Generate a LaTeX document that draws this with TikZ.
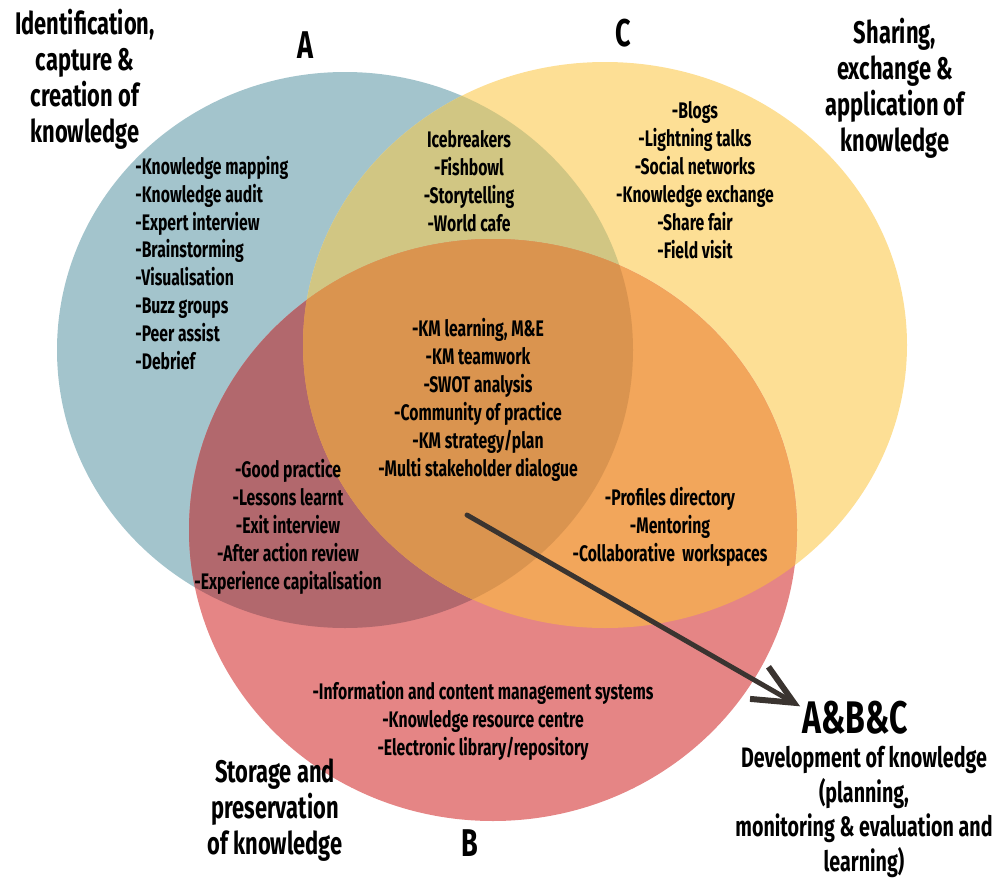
\documentclass[tikz,border=0pt]{standalone}
\usepackage{fontspec}
\setmainfont{Fira Sans}[FakeStretch=0.7]
\usetikzlibrary{arrows.meta}
\definecolor{fillA}{HTML}{A3C4CC}
\definecolor{fillB}{HTML}{E58585}
\definecolor{fillC}{HTML}{FDDF95}
\definecolor{fillAB}{HTML}{B2686D}
\definecolor{fillAC}{HTML}{D1C683}
\definecolor{fillBC}{HTML}{F2A65B}
\definecolor{fillABC}{HTML}{DA944F}
\definecolor{pointergray}{HTML}{3A3430}
\newcommand\shapeA{(345,350) ellipse [x radius=288, y radius=278]}
\newcommand\shapeB{(493,530) ellipse [x radius=304, y radius=291]}
\newcommand\shapeC{(605,345) ellipse [x radius=302, y radius=283]}
\tikzset{
  item/.style={align=center, inner sep=0pt, font=\bfseries\fontsize{12.8}{15.9}\selectfont},
  itemleft/.style={item, align=left},
  heading/.style={align=center, inner sep=0pt, font=\bfseries\fontsize{17.8}{20.5}\selectfont},
  setname/.style={inner sep=0pt, font=\bfseries\fontsize{22}{22}\selectfont},
  pointer/.style={line width=2.8pt, draw=pointergray, line cap=round,
    -{Straight Barb[length=0.8cm, width=0.74cm, line width=3.4pt]}},
}

\begin{document}
\begin{tikzpicture}[x=0.02cm, y=-0.02cm]
\useasboundingbox (0,0) rectangle (998,879);
% the three sets
\fill[fillA] \shapeA;
\fill[fillC] \shapeC;
\fill[fillB] \shapeB;
% pairwise overlaps
\begin{scope}
  \clip \shapeA;
  \fill[fillAC] \shapeC;
  \fill[fillAB] \shapeB;
\end{scope}
\begin{scope}
  \clip \shapeC;
  \fill[fillBC] \shapeB;
\end{scope}
% all three
\begin{scope}
  \clip \shapeA;
  \clip \shapeC;
  \fill[fillABC] \shapeB;
\end{scope}
% set letters and headings
\node[setname] (nameA) at (305,45) {A};
\node[setname] (nameC) at (623,33) {C};
\node[setname] (nameB) at (470,843) {B};
\node[heading] (headA) at (85,79) {Identification,\\capture \&\\creation of\\knowledge};
\node[heading] (headC) at (895,88) {Sharing,\\exchange \&\\application of\\knowledge};
\node[heading] (headB) at (275,810) {Storage and\\preservation\\of knowledge};
% methods in each region
\node[itemleft, anchor=west] (listA) at (135,263)
  {-Knowledge mapping\\-Knowledge audit\\-Expert interview\\-Brainstorming\\-Visualisation\\-Buzz groups\\-Peer assist\\-Debrief};
\node[item] (listAC) at (469,181) {Icebreakers\\-Fishbowl\\-Storytelling\\-World cafe};
\node[item] (listC) at (695,180)
  {-Blogs\\-Lightning talks\\-Social networks\\-Knowledge exchange\\-Share fair\\-Field visit};
\node[item] (listABC) at (478,400)
  {-KM learning, M\&E\\-KM teamwork\\-SWOT analysis\\-Community of practice\\-KM strategy/plan\\-Multi stakeholder dialogue};
\node[item] (listAB) at (288,527)
  {-Good practice\\-Lessons learnt\\-Exit interview\\-After action review\\-Experience capitalisation};
\node[item] (listBC) at (670,527) {-Profiles directory\\-Mentoring\\-Collaborative~ workspaces};
\node[item] (listB) at (483,721)
  {-Information and content management systems\\-Knowledge resource centre\\-Electronic library/repository};
% development of knowledge
\node[setname, font=\bfseries\fontsize{26}{26}\selectfont] (abc) at (855,718) {A\&B\&C};
\node[heading, font=\bfseries\fontsize{16}{19.6}\selectfont] (dev) at (864,812)
  {Development of knowledge\\(planning,\\monitoring \& evaluation and\\learning)};
\coordinate (kmstart) at (467,515);
\draw[pointer] (kmstart) -- ([xshift=-1pt,yshift=-3pt]abc.north west);
\end{tikzpicture}
\end{document}
